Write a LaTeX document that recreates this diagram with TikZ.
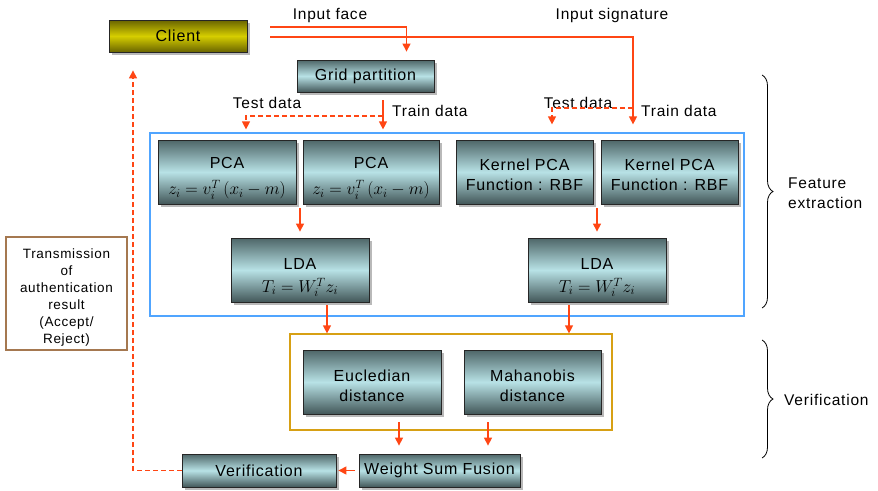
\documentclass[tikz,border=0pt]{standalone}
\usepackage{fontspec}
\setmainfont[LetterSpace=5]{Liberation Sans}
\usepackage{tikz}
\usetikzlibrary{arrows.meta,shadows,decorations.pathreplacing}

\definecolor{flowred}{RGB}{255,70,20}
\definecolor{boxdark}{RGB}{78,102,104}
\definecolor{boxlight}{RGB}{184,226,230}
\definecolor{clientdark}{RGB}{105,100,0}
\definecolor{clientlight}{RGB}{214,206,0}
\definecolor{featblue}{RGB}{80,165,255}
\definecolor{verifgold}{RGB}{215,160,20}
\definecolor{sendbrown}{RGB}{165,120,80}

\newcommand{\formulafont}{\fontsize{18}{18}\selectfont}
\newcommand{\toppad}[1]{\rule{0pt}{#1}}

\tikzset{
  stage/.style={draw=black!85, line width=0.8pt, top color=boxdark, bottom color=boxdark!85!black, middle color=boxlight,
    drop shadow={shadow xshift=3pt,shadow yshift=-3pt,fill=black!55}, inner sep=0pt, align=center,
    font=\fontsize{16}{20}\selectfont},
  client/.style={stage, top color=clientdark, bottom color=clientdark, middle color=clientlight},
  big/.style={minimum width=137pt, minimum height=64pt},
  flat/.style={minimum height=33pt},
  flow/.style={draw=flowred, line width=1.2pt, -{Triangle[length=8pt,width=8pt]}},
  dashflow/.style={flow, dash pattern=on 5pt off 3pt},
  tag/.style={font=\fontsize{15.5}{18}\selectfont, inner sep=0pt},
}

\begin{document}
\begin{tikzpicture}[x=1pt,y=-1pt]
\useasboundingbox (0,0) rectangle (878,490);
% frames
\node[draw=featblue, line width=1.2pt, minimum width=594pt, minimum height=183pt] (feat) at (447,224.5) {};
\node[draw=verifgold, line width=1.2pt, minimum width=322pt, minimum height=96pt] (verbox) at (451,382) {};
\node[draw=sendbrown, line width=1.2pt, minimum width=121pt, minimum height=113pt, align=center, inner sep=0pt,
  font=\fontsize{13.5}{17}\selectfont] (send) at (66.5,293.5) {\toppad{17pt}Transmission\\of\\authentication\\result\\(Accept/\\Reject)};

\node[client, minimum width=138pt, minimum height=32pt] (client) at (178,36) {Client};
\node[stage, minimum width=137pt, minimum height=32pt] (grid) at (365.5,76) {Grid partition};

\node[stage, big, minimum width=138pt] (pcatest) at (227,172) {\toppad{24pt}PCA\\[6pt]{\formulafont$z_i = v_i^{T}\,(x_i - m)$}};
\node[stage, big, minimum width=136pt] (pcatrain) at (371,172) {\toppad{24pt}PCA\\[6pt]{\formulafont$z_i = v_i^{T}\,(x_i - m)$}};
\node[stage, big] (kpcatest) at (524.5,172) {\toppad{17pt}Kernel PCA\\Function : RBF};
\node[stage, big] (kpcatrain) at (669.5,172) {\toppad{17pt}Kernel PCA\\Function : RBF};
\node[stage, big, minimum width=138pt] (ldaface) at (300,270) {\toppad{26pt}LDA\\[3pt]{\formulafont$T_i = W_i^{T} z_i$}};
\node[stage, big, minimum width=138pt] (ldasig) at (597,270) {\toppad{26pt}LDA\\[3pt]{\formulafont$T_i = W_i^{T} z_i$}};

\node[stage, big, minimum width=138pt] (eucl) at (372,382) {\toppad{19pt}Eucledian\\distance};
\node[stage, big] (maha) at (532.5,382) {\toppad{19pt}Mahanobis\\distance};
\node[stage, flat, minimum width=161pt] (fusion) at (439.5,470.5) {Weight Sum Fusion};
\node[stage, flat, minimum width=154pt] (verif) at (259,470.5) {Verification};

% labels
\node[tag] (face) at (330,15) {Input face};
\node[tag] (sign) at (612,15) {Input signature};
\node[tag] (testface) at (267,103) {Test data};
\node[tag, anchor=west] (trainface) at (392,111) {Train data};
\node[tag] (testsig) at (578,103) {Test data};
\node[tag, anchor=west] (trainsig) at (641,111) {Train data};

% inputs
\coordinate (facein) at (270,27);
\coordinate (signin) at (270,37);
\coordinate (splitface) at (383,116);
\coordinate (splitsig) at (633,108);
\draw[flow, shorten >=8pt] (facein) -| ([xshift=41pt]grid.north);
\draw[flow, shorten >=8pt] (signin) -| (splitsig |- feat.north);
\draw[flow, shorten <=8pt, shorten >=3pt] ([xshift=17.5pt]grid.south) -- (splitface |- feat.north);
\draw[dashflow, shorten >=3pt] (splitface) -| ([xshift=19pt]pcatest.north |- feat.north);
\draw[dashflow, shorten >=8pt] (splitsig) -| ([xshift=27.5pt]kpcatest.north |- feat.north);

% feature extraction
\draw[flow, shorten <=4pt, shorten >=6pt] (ldaface.north |- pcatest.south) -- (ldaface.north);
\draw[flow, shorten <=4pt, shorten >=6pt] (ldasig.north |- kpcatest.south) -- (ldasig.north);
\draw[flow, shorten <=3pt] ([xshift=27pt]ldaface.south) -- ([xshift=27pt]ldaface.south |- verbox.north);
\draw[flow, shorten <=3pt] ([xshift=-28pt]ldasig.south) -- ([xshift=-28pt]ldasig.south |- verbox.north);

% verification
\draw[flow, shorten <=8pt, shorten >=8pt] ([xshift=27pt]eucl.south) -- ([xshift=27pt]eucl.south |- fusion.north);
\draw[flow, shorten <=8pt, shorten >=8pt] ([xshift=-44.5pt]maha.south) -- ([xshift=-44.5pt]maha.south |- fusion.north);
\draw[flow, shorten <=4pt, shorten >=2pt] (fusion.west) -- (verif.east);
\draw[dashflow, shorten >=18pt] (verif.west) -| ([xshift=-45pt]client.south);

% braces
\draw[line width=0.8pt, decorate, decoration={brace, amplitude=11pt}] (762,75) -- (762,308);
\draw[line width=0.8pt, decorate, decoration={brace, amplitude=11pt}] (762,340) -- (762,458);
\node[tag, anchor=west, align=left, font=\fontsize{15.5}{20}\selectfont] (featlabel) at (788,193) {Feature\\extraction};
\node[tag, anchor=west] (veriflabel) at (784,400) {Verification};
\end{tikzpicture}
\end{document}
